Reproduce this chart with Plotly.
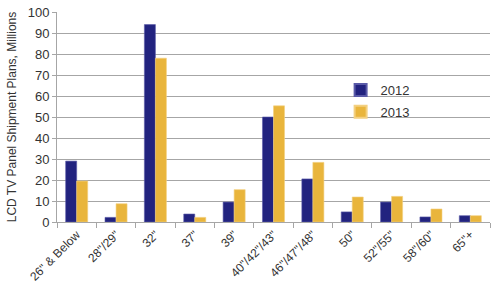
import plotly.graph_objects as go

categories = ['26" & Below', '28"/29"', '32"', '37"', '39"', '40"/42"/43"',
              '46"/47"/48"', '50"', '52"/55"', '58"/60"', '65"+']
values_2012 = [29, 2.2, 94, 3.8, 9.5, 50, 20.5, 4.8, 9.5, 2.4, 3]
values_2013 = [19.5, 8.7, 78, 2.2, 15.4, 55.3, 28.4, 11.9, 12.2, 6.2, 3]
y_ticks = [0, 10, 20, 30, 40, 50, 60, 70, 80, 90, 100]

fig = go.Figure()
fig.add_trace(go.Bar(x=categories, y=values_2012, name="2012", legendgroup="a",
                     marker=dict(color="#22237F", line=dict(color="#5A5AA8", width=0.6))))
fig.add_trace(go.Bar(x=categories, y=values_2013, name="2013", legendgroup="b",
                     marker=dict(color="#E9B53C", line=dict(color="#F3D080", width=0.6))))

fig.update_layout(
    width=500, height=290,
    margin=dict(l=57, r=10, t=12, b=68),
    paper_bgcolor="white", plot_bgcolor="white",
    barmode="group", bargap=0.44, bargroupgap=0,
    font=dict(family="Liberation Sans, Arial, sans-serif", size=12, color="#333333"),
    showlegend=True,
    legend=dict(x=0.655, y=0.7, xanchor="left", yanchor="top",
                bgcolor="rgba(0,0,0,0)", font=dict(size=13),
                tracegroupgap=2, itemsizing="constant"),
)
fig.update_yaxes(range=[0, 100], tickvals=y_ticks, showgrid=True, gridcolor="#A6A6A6",
                 gridwidth=1, showline=True, linecolor="#A6A6A6", ticks="outside",
                 ticklen=4, tickcolor="#A6A6A6", zeroline=False, automargin=False,
                 tickfont=dict(size=13),
                 title=dict(text="LCD TV Panel Shipment Plans, Millions",
                            font=dict(size=12), standoff=8))
fig.update_xaxes(showline=True, linecolor="#A6A6A6", ticks="outside", ticklen=5,
                 tickcolor="#A6A6A6", tickson="boundaries", tickangle=-45,
                 automargin=False, tickfont=dict(size=12))

fig.write_html("out.html")
